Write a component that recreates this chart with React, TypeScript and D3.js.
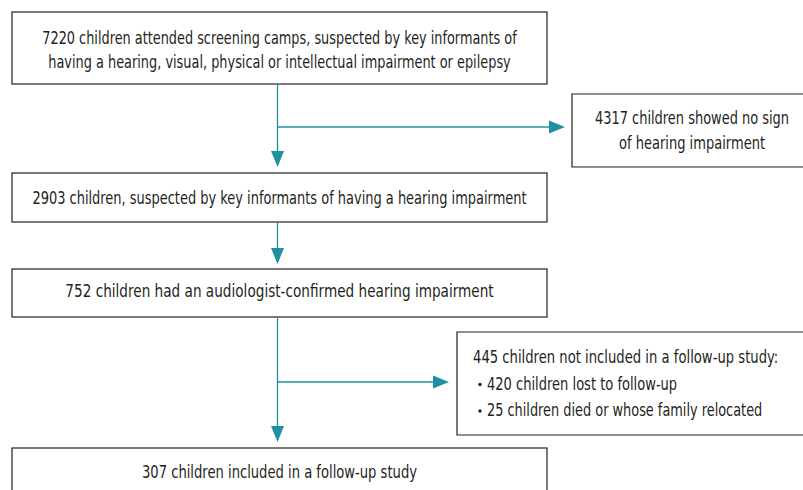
import React, { useLayoutEffect, useRef, useState } from 'react';
import * as d3 from 'd3';

const mainTexts = [
  ['7220 children attended screening camps, suspected by key informants of', 'having a hearing, visual, physical or intellectual impairment or epilepsy'],
  ['2903 children, suspected by key informants of having a hearing impairment'],
  ['752 children had an audiologist-confirmed hearing impairment'],
  ['307 children included in a follow-up study'],
];
const sideTitle = ['4317 children showed no sign', 'of hearing impairment'];
const sideHead = '445 children not included in a follow-up study:';
const sideBullets = ['420 children lost to follow-up', '25 children died or whose family relocated'];

// rendered widths of each line in the original (condensed face)
const mainWidths = [[474, 462], [494], [428], [275]];
const sideTitleWidths = [194, 146];
const sideHeadWidth = 305;
const sideBulletWidths = [190, 275];

const W = 803;
const H = 490;
const TEAL = '#1e90a2';
const INK = '#231f20';
const FONT = '"DejaVu Sans Condensed", "DejaVu Sans", sans-serif';
const FS = 17;

// [top, bottom, text centre]
const mainY = [[12, 84, 50], [173, 222, 198], [269, 317, 291], [448, 500, 472]];
const mainX: [number, number] = [12, 547];
const cx = 277.5;
const side1 = { x: 572, y: 94, h: 73 };
const side2 = { x: 457, y: 332, h: 103 };

const lineY = d3.scaleLinear().domain([0, 1]).range([0, 24.5]);

// text squeezed horizontally to the width it has in the original
const Label = ({ x, y, w, anchor = 'start', children }: any) => {
  const ref = useRef<SVGTextElement>(null);
  const [sx, setSx] = useState(0.8);
  useLayoutEffect(() => {
    if (ref.current) {
      const natural = ref.current.getComputedTextLength();
      if (natural > 0) setSx(w / natural);
    }
  }, [w, children]);
  return (
    <g transform={`translate(${x},${y}) scale(${sx},1)`}>
      <text ref={ref} dy="0.36em" textAnchor={anchor} fontFamily={FONT} fontStretch="condensed"
        fontSize={FS} fill={INK}>{children}</text>
    </g>
  );
};

// box running off the right edge of the page: no right border drawn
const OpenBox = ({ x, y, h }: { x: number; y: number; h: number }) => {
  const p = d3.path();
  p.moveTo(W, y);
  p.lineTo(x, y);
  p.lineTo(x, y + h);
  p.lineTo(W, y + h);
  return <path d={p.toString()} fill="none" stroke={INK} strokeWidth={1.2} />;
};

const Arrow = ({ x1, y1, x2, y2 }: { x1: number; y1: number; x2: number; y2: number }) => {
  const ang = Math.atan2(y2 - y1, x2 - x1);
  const len = 16;
  const half = 6.5;
  const bx = x2 - len * Math.cos(ang);
  const by = y2 - len * Math.sin(ang);
  const px = -Math.sin(ang) * half;
  const py = Math.cos(ang) * half;
  const head = d3.path();
  head.moveTo(x2, y2);
  head.lineTo(bx + px, by + py);
  head.lineTo(bx - px, by - py);
  head.closePath();
  return (
    <g>
      <line x1={x1} y1={y1} x2={bx} y2={by} stroke={TEAL} strokeWidth={1.3} />
      <path d={head.toString()} fill={TEAL} />
    </g>
  );
};

export default function App() {
  const [x0, x1] = mainX;
  const mid = (x0 + x1) / 2;
  return (
    <svg width={W} height={H} style={{ position: 'absolute', left: 0, top: 0 }}>
      <rect width={W} height={H} fill="#fff" />
      {mainTexts.map((lines, i) => {
        const [t, b, c] = mainY[i];
        const first = c - lineY(lines.length - 1) / 2;
        return (
          <g key={i}>
            <rect x={x0} y={t} width={x1 - x0} height={b - t} fill="none" stroke={INK} strokeWidth={1.2} />
            {lines.map((s, j) => (
              <Label key={j} x={mid} y={first + lineY(j)} w={mainWidths[i][j]} anchor="middle">{s}</Label>
            ))}
          </g>
        );
      })}

      <Arrow x1={cx} y1={mainY[0][1]} x2={cx} y2={mainY[1][0] - 6} />
      <Arrow x1={cx} y1={127} x2={side1.x - 7} y2={127} />
      <Arrow x1={cx} y1={mainY[1][1]} x2={cx} y2={mainY[2][0] - 5} />
      <Arrow x1={cx} y1={mainY[2][1]} x2={cx} y2={mainY[3][0] - 6} />
      <Arrow x1={cx} y1={382} x2={side2.x - 8} y2={382} />

      <OpenBox {...side1} />
      {sideTitle.map((s, j) => (
        <Label key={j} x={692} y={118 + lineY(j) * 1.02} w={sideTitleWidths[j]} anchor="middle">{s}</Label>
      ))}

      <OpenBox {...side2} />
      <Label x={473} y={357} w={sideHeadWidth}>{sideHead}</Label>
      {sideBullets.map((s, j) => {
        const y = 383.5 + lineY(j) * 1.08;
        return (
          <g key={j}>
            <circle cx={480} cy={y + 1} r={1.7} fill={INK} />
            <Label x={487} y={y} w={sideBulletWidths[j]}>{s}</Label>
          </g>
        );
      })}
    </svg>
  );
}
